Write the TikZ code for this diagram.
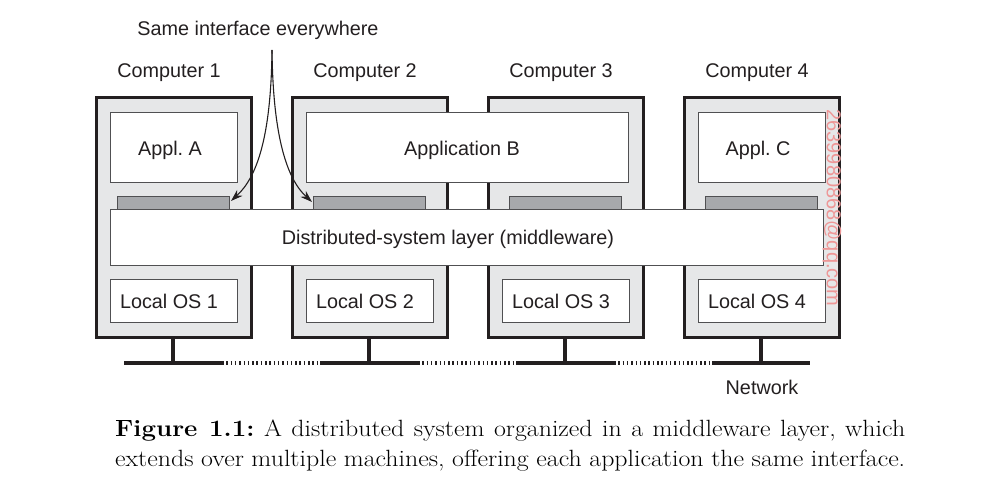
\documentclass[tikz,border=0pt]{standalone}
\usepackage{fontspec}
\newfontfamily\labelfont{Liberation Sans}
\newfontfamily\capfont[FakeStretch=1.1]{Latin Modern Roman}
\usetikzlibrary{arrows.meta}
\definecolor{cdark}{RGB}{35,31,32}
\definecolor{cmid}{RGB}{80,80,82}
\definecolor{cgray}{RGB}{230,231,232}
\definecolor{cbar}{RGB}{167,169,172}
\definecolor{cwm}{RGB}{238,150,150}
\frenchspacing
\begin{document}
\begin{tikzpicture}[x=1pt,y=-1pt,
  lbl/.style={font=\labelfont\fontsize{19.8}{22}\selectfont, text=cdark, inner sep=0pt},
  compbox/.style={draw=cdark, line width=2.6pt, fill=cgray, anchor=north west, inner sep=0pt, minimum width=155pt, minimum height=240pt},
  innerbox/.style={draw=cmid, line width=1.3pt, fill=white, anchor=north west, inner sep=0pt},
  ifacebar/.style={draw=cmid, line width=1.3pt, fill=cbar, anchor=north west, inner sep=0pt, minimum width=112pt, minimum height=13pt},
  stem/.style={draw=cdark, line width=4pt},
  netline/.style={draw=cdark, line width=4.5pt},
  netdots/.style={draw=cdark, line width=4pt, dash pattern=on 1.5pt off 2.8pt},
  callout/.style={draw=cdark, line width=1.1pt, -{Stealth[length=12pt,width=8pt]}}
]
\useasboundingbox (0,0) rectangle (985,493);
% computers
\foreach \i/\xx in {1/95,2/291,3/487,4/683}{
  \node[compbox] (c\i) at (\xx,96) {};
  \node[lbl] (t\i) at (\xx+74,73) {Computer \i};
  \node[ifacebar] (b\i) at (\xx+22,196) {};
}
% applications
\node[innerbox, minimum width=127pt, minimum height=70pt] (aA) at (110,112) {};
\node[lbl] (aAt) at (170,150) {Appl. A};
\node[innerbox, minimum width=322pt, minimum height=70pt] (aB) at (306,112) {};
\node[lbl] (aBt) at (462,150) {Application B};
\node[innerbox, minimum width=127pt, minimum height=70pt] (aC) at (698,112) {};
\node[lbl] (aCt) at (758,150) {Appl. C};
% middleware
\node[innerbox, minimum width=713pt, minimum height=56pt] (mw) at (110,209) {};
\node[lbl] (mwt) at (448,239) {Distributed-system layer (middleware)};
% local OS
\foreach \i/\xx in {1/95,2/291,3/487,4/683}{
  \node[innerbox, minimum width=127pt, minimum height=43pt] (os\i) at (\xx+15,279) {};
  \node[lbl] (ost\i) at (\xx+74,301) {Local OS \i};
}
% network
\foreach \i/\xx in {1/173,2/369,3/565,4/761}{
  \coordinate (n\i) at (\xx,363);
  \coordinate (nl\i) at (\xx-49,363);
  \coordinate (nr\i) at (\xx+49,363);
  \draw[stem] (c\i.south -| n\i) -- (n\i);
  \draw[netline] (nl\i) -- (nr\i);
}
\draw[netdots] (nr1) -- (nl2);
\draw[netdots] (nr2) -- (nl3);
\draw[netdots] (nr3) -- (nl4);
\node[lbl] (net) at (762,387) {Network};
% callout
\node[lbl] (same) at (258,30) {Same interface everywhere};
\coordinate (src) at (272,50);
\coordinate (e1) at (231,201);
\coordinate (e2) at (312,202);
\draw[callout] (src) .. controls (271,140) and (256,178) .. (e1);
\draw[callout] (src) .. controls (273,140) and (288,180) .. (e2);
% watermark
\node[font=\labelfont\fontsize{20}{22}\selectfont, text=cwm, rotate=-90, inner sep=0pt] (wm) at (832,208) {2639980868@qq.com};
% caption
\node[anchor=north west, inner sep=0pt, text width=790pt, font=\capfont\fontsize{23.5}{30}\selectfont, align=justify] (cap) at (115,420) {\parfillskip=0pt \textbf{Figure 1.1:} A distributed system organized in a middleware layer, which\linebreak extends over multiple machines, offering each application the same interface.};
\end{tikzpicture}
\end{document}
